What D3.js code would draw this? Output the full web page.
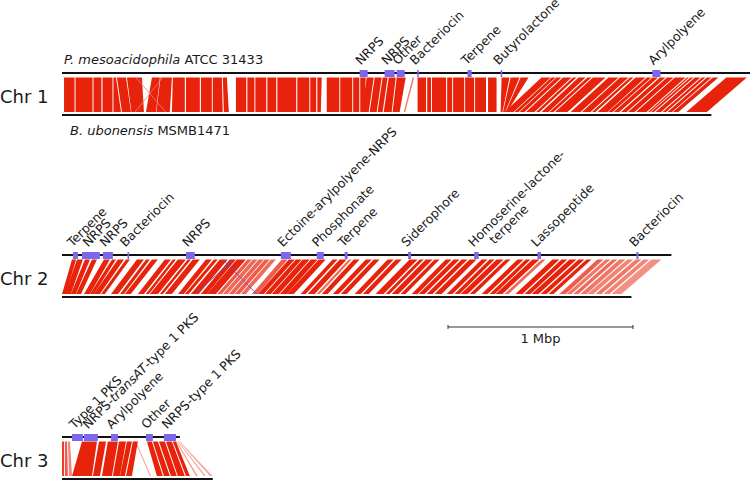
<!DOCTYPE html>
<html><head><meta charset="utf-8">
<script src="https://cdn.jsdelivr.net/npm/d3@7"></script>
<style>body{margin:0;background:#fff}text{font-family:"DejaVu Sans",sans-serif;fill:#1a1a1a}</style>
</head><body><svg id="c" width="750" height="480"></svg>
<script>
// ---- data (positions in kbp) ----
const chromNames = ["Chr 1", "Chr 2", "Chr 3"];
const topLengths = [3720, 3294, 637];   // P. mesoacidophila ATCC 31433
const botLengths = [3510, 3078, 815];   // B. ubonensis MSMB1471
const topGenome = ["P. mesoacidophila", " ATCC 31433"];
const botGenome = ["B. ubonensis", " MSMB1471"];

// syntenic blocks: [topStart, topEnd, botStart, botEnd, identity%]
const chr1Blocks = [
 [11,68,11,68,99],[73,165,73,165,99],[170,213,170,213,99],[219,273,219,273,99],
 [278,292,278,319,99],[297,346,324,373,99],[351,432,375,443,99],[486,529,454,508,99],
 [532,594,510,583,99],[599,664,594,664,99],[670,745,670,745,99],[751,810,751,810,99],
 [815,864,815,869,99],[869,891,875,902,99],[940,996,940,996,99],[1002,1040,1002,1040,99],
 [1045,1104,1045,1104,99],[1110,1158,1110,1158,99],[1164,1266,1164,1266,99],[1272,1337,1272,1337,99],
 [1342,1374,1342,1374,99],[1380,1404,1380,1399,99],[1431,1499,1431,1499,99],[1504,1569,1504,1569,99],
 [1574,1607,1574,1607,99],[1612,1642,1612,1631,99],[1647,1685,1620,1658,99],[1690,1728,1663,1701,99],
 [1733,1760,1706,1733,99],[1766,1804,1739,1782,99],[1809,1858,1787,1825,99],[1895,1904,1847,1855,85],
 [1922,1968,1922,1968,99],[1974,1995,1974,1995,99],[2000,2076,2000,2076,99],[2082,2109,2082,2109,99],
 [2114,2174,2114,2174,99],[2179,2228,2179,2228,99],[2233,2292,2233,2292,99],[2303,2349,2303,2349,99],
 [2376,2419,2371,2381,99],[2425,2473,2384,2395,99],[2479,2522,2398,2406,99],
 [2592,2641,2392,2441,99],[2646,2668,2446,2468,99],[2673,2700,2473,2500,99],[2708,2754,2508,2554,99],
 [2762,2781,2562,2581,99],[2792,2830,2592,2630,99],[2840,2862,2635,2657,99],[2870,2938,2665,2733,99],
 [2954,3008,2749,2803,99],[3016,3062,2811,2857,99],[3070,3089,2865,2884,99],[3100,3154,2895,2949,99],
 [3162,3186,2952,2976,99],[3192,3222,2982,3012,99],[3232,3262,3022,3052,99],[3270,3305,3060,3095,99],
 [3313,3370,3103,3160,99],[3378,3389,3168,3179,99],[3397,3413,3184,3200,99],[3421,3451,3208,3238,99],
 [3459,3478,3246,3265,99],[3486,3510,3273,3297,99],[3518,3548,3302,3332,99],[3591,3702,3375,3486,99]
];
const chr2Blocks = [
 [54,76,0,22,99],[81,113,16,48,99],[124,151,48,75,99],[162,189,76,103,99],
 [227,259,119,151,99],[270,292,151,173,99],[302,335,172,205,99],[346,367,211,232,99],
 [405,443,265,303,99],[454,475,314,335,99],[486,518,340,372,99],
 [556,589,410,443,99],[599,616,453,470,99],[626,670,475,519,99],[680,697,529,546,99],[707,745,556,594,99],
 [778,810,627,659,99],[821,842,664,685,99],[853,896,696,739,99],[907,940,750,783,99],[945,994,783,832,99],
 [1002,1026,840,864,90],[1031,1058,869,896,88],[1064,1091,902,929,89],[1096,1123,934,961,90],[1129,1156,967,994,88],
 [1188,1220,1026,1058,90],[1226,1258,1059,1091,99],[1264,1296,1097,1129,99],[1301,1339,1134,1172,99],
 [1345,1382,1178,1215,99],[1388,1426,1215,1253,99],
 [1463,1490,1290,1317,99],[1501,1539,1328,1366,99],[1550,1566,1377,1393,88],[1577,1609,1404,1436,99],
 [1642,1674,1464,1496,99],[1685,1717,1507,1539,99],
 [1760,1793,1582,1615,99],[1804,1836,1626,1658,99],
 [1879,1922,1695,1738,99],[1933,1955,1749,1771,99],[1966,2003,1782,1819,99],[2014,2041,1830,1857,99],
 [2074,2106,1890,1922,99],[2117,2149,1928,1960,99],[2160,2192,1971,2003,99],[2203,2241,2014,2052,99],
 [2268,2300,2079,2111,99],[2311,2338,2122,2149,99],[2349,2387,2155,2193,99],[2398,2425,2204,2231,99],
 [2462,2495,2268,2301,99],[2506,2533,2312,2339,99],[2543,2581,2343,2381,99],[2592,2614,2392,2414,88],
 [2651,2689,2451,2489,99],[2700,2732,2500,2532,99],[2743,2781,2538,2576,99],[2792,2824,2587,2619,99],
 [2835,2862,2630,2657,99],
 [2894,2927,2689,2722,90],[2938,2965,2727,2754,86],[2975,3002,2764,2791,88],[3013,3046,2802,2835,86],
 [3056,3089,2840,2873,84],[3100,3132,2884,2916,86],[3143,3175,2927,2959,84],[3186,3240,2970,3024,82]
];
const chr3Blocks = [
 [0,11,0,11,95],[16,27,16,32,90],[32,43,38,54,84],
 [108,189,54,162,99],[200,238,167,205,99],
 [248,302,216,270,99],[308,346,275,313,99],[351,378,313,340,99],[383,410,346,378,99],
 [394,400,475,481,80],
 [459,486,513,545,99],[491,518,551,583,99],[524,556,589,621,99],[562,594,626,664,99],[599,616,670,691,99],
 [616,621,724,734,80],[626,630,767,778,78],[632,637,799,815,78]
];
// inverted matches: [topPos, botPos]
const chr1Inversions = [[400,560],[545,395]];
const chr2Inversions = [[869,1053],[926,721]];
const chr3Inversions = [];

// biosynthetic gene clusters on top genome: [label, start, end]
const chr1Clusters = [["NRPS",1609,1652],["NRPS",1744,1798],["Other",1809,1852],["Bacteriocin",1920,1928],
 ["Terpene",2192,2214],["Butyrolactone",2371,2379],["Arylpolyene",3191,3235]];
const chr2Clusters = [["Terpene",59,86],["NRPS",108,205],["NRPS",221,275],["Bacteriocin",354,362],
 ["NRPS",670,718],["Ectoine-arylpolyene-NRPS",1183,1237],["Phosphonate",1377,1415],["Terpene",1528,1544],
 ["Siderophore",1871,1887],["Homoserine-lactone-\nterpene",2228,2252],["Lassopeptide",2570,2589],["Bacteriocin",3105,3116]];
const chr3Clusters = [["Type 1 PKS",54,113],["NRPS-*transAT*-type 1 PKS",119,194],["Arylpolyene",265,302],
 ["Other",454,491],["NRPS-type 1 PKS",551,616]];
const scaleBarKb = 1000;
const scaleBarLabel = "1 Mbp";

// ---- drawing ----
const svg = d3.select("#c");
svg.append("rect").attr("width",750).attr("height",480).attr("fill","#fff");
const x = d3.scaleLinear().domain([0, 3720]).range([62, 62 + 3720*0.185]);
const op = d3.scaleLinear().domain([75, 99]).range([0.3, 1]).clamp(true);
const RED = "#e8230b", BLUE = "#7b68ee";
const topYs = [73, 255, 437], gapH = 42;
const blocksAll = [chr1Blocks, chr2Blocks, chr3Blocks];
const invAll = [chr1Inversions, chr2Inversions, chr3Inversions];
const clAll = [chr1Clusters, chr2Clusters, chr3Clusters];

chromNames.forEach((name, i) => {
  const yT = topYs[i], yB = yT + gapH;
  const rT = yT + 4.5, rB = yB - 3;
  const g = svg.append("g");
  g.selectAll("polygon.blk").data(blocksAll[i]).join("polygon")
    .attr("points", d => [[x(d[0]),rT],[x(d[1]),rT],[x(d[3]),rB],[x(d[2]),rB]].join(" "))
    .attr("fill", RED).attr("fill-opacity", d => op(d[4]));
  g.selectAll("line.inv").data(invAll[i]).join("line")
    .attr("x1", d => x(d[0])).attr("y1", rT).attr("x2", d => x(d[1])).attr("y2", rB)
    .attr("stroke", i === 1 ? "#5a4fd8" : "#f08080").attr("stroke-width", 1).attr("opacity", 0.8);
  g.append("line").attr("x1", x(0)).attr("x2", x(topLengths[i])).attr("y1", yT).attr("y2", yT)
    .attr("stroke", "#111").attr("stroke-width", 2);
  g.append("line").attr("x1", x(0)).attr("x2", x(botLengths[i])).attr("y1", yB).attr("y2", yB)
    .attr("stroke", "#111").attr("stroke-width", 2);
  g.selectAll("rect.cl").data(clAll[i]).join("rect")
    .attr("x", d => x(d[1])).attr("width", d => Math.max(1.6, x(d[2]) - x(d[1])))
    .attr("y", yT - 3).attr("height", 7).attr("fill", BLUE);
  clAll[i].forEach(d => {
    const cx = (x(d[1]) + x(d[2])) / 2;
    const t = g.append("text").attr("font-size", 12.5)
      .attr("transform", `translate(${cx - 3},${yT - 7.5}) rotate(-45)`);
    const lines = d[0].split("\n");
    lines.forEach((ln, li) => {
      const parts = ln.split("*");
      parts.forEach((p, pi) => {
        if (!p) return;
        const ts = t.append("tspan").text(p);
        if (pi % 2 === 1) ts.attr("font-style", "italic");
        if (li > 0 && (pi === 0)) ts.attr("x", 17).attr("y", 13);
      });
    });
  });
  svg.append("text").attr("x", 0).attr("y", yT + 30).attr("font-size", 18).text(name);
});

// genome names
const tg = svg.append("text").attr("x", 64).attr("y", 64).attr("font-size", 13);
tg.append("tspan").attr("font-style","italic").text(topGenome[0]);
tg.append("tspan").text(topGenome[1]);
const bg = svg.append("text").attr("x", 70).attr("y", 135).attr("font-size", 13);
bg.append("tspan").attr("font-style","italic").text(botGenome[0]);
bg.append("tspan").text(botGenome[1]);

// scale bar
const sb0 = 448, sb1 = sb0 + (x(scaleBarKb) - x(0)), sbY = 327;
svg.append("line").attr("x1", sb0).attr("x2", sb1).attr("y1", sbY).attr("y2", sbY).attr("stroke","#333").attr("stroke-width",1.2);
[sb0, sb1].forEach(v => svg.append("line").attr("x1", v).attr("x2", v).attr("y1", sbY-2).attr("y2", sbY+2).attr("stroke","#333"));
svg.append("text").attr("x", (sb0+sb1)/2).attr("y", sbY + 16).attr("text-anchor","middle").attr("font-size", 13).text(scaleBarLabel);
</script></body></html>
